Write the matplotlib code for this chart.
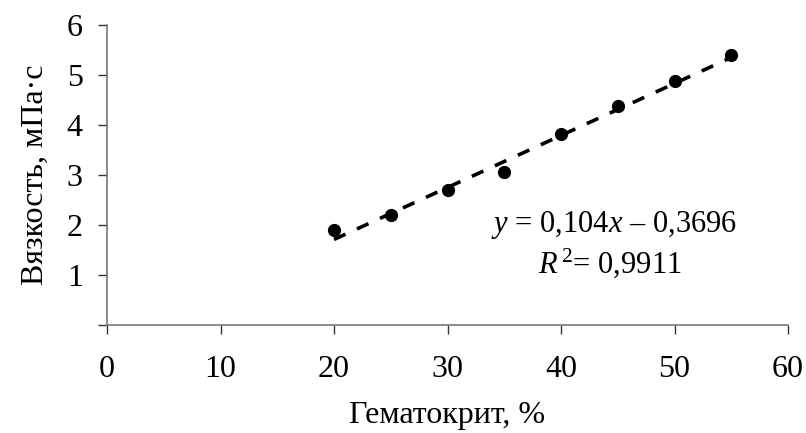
import matplotlib
matplotlib.use("Agg")
import matplotlib.pyplot as plt
import numpy as np

plt.rcParams['font.family'] = ['Liberation Serif', 'DejaVu Serif']
plt.rcParams['mathtext.fontset'] = 'custom'
plt.rcParams['mathtext.rm'] = 'Liberation Serif'
plt.rcParams['mathtext.it'] = 'Liberation Serif:italic'

# data
hematocrit = [20, 25, 30, 35, 40, 45, 50, 55]
viscosity = [1.9, 2.2, 2.7, 3.06, 3.82, 4.38, 4.88, 5.4]
slope = 0.104
intercept = -0.3696
r2 = 0.9911
xticks = [0, 10, 20, 30, 40, 50, 60]
yticks = [0, 1, 2, 3, 4, 5, 6]
ytick_labels = ['', '1', '2', '3', '4', '5', '6']

W, H = 806, 433
fig = plt.figure(figsize=(W / 100, H / 100), dpi=100)
ax = fig.add_axes([107 / W, 1 - 325 / H, 681 / W, 300 / H])

ax.plot(hematocrit, viscosity, 'o', color='black', markersize=8.5, zorder=3)
xt = np.array([hematocrit[0], hematocrit[-1]])
ax.plot(xt, slope * xt + intercept, color='black', linewidth=2.6,
        linestyle=(0, (3.5, 3.5)), dash_capstyle='butt')

ax.set_xlim(0, 60)
ax.set_ylim(0, 6)
ax.set_xticks(xticks)
ax.set_yticks(yticks)
ax.set_yticklabels(ytick_labels)

for s in ['top', 'right']:
    ax.spines[s].set_visible(False)
for s in ['left', 'bottom']:
    ax.spines[s].set_color('#777777')
    ax.spines[s].set_linewidth(1.2)
ax.tick_params(direction='out', length=6.5, width=1.0, color='#333333',
               labelsize=23)
ax.tick_params(axis='y', pad=11)
ax.tick_params(axis='x', pad=15)

ax.set_xlabel('Гематокрит, %', fontsize=23, labelpad=12)
ax.set_ylabel('Вязкость, мПа·с', fontsize=23, labelpad=12)

eq = '$y$ = ' + f'{slope}'.replace('.', ',') + '$x$ – ' + f'{-intercept}'.replace('.', ',')
ax.text(614, H - 225, eq, transform=None, fontsize=22, ha='center', va='center')
ax.text(610, H - 263, '$R^{\\,2}$= ' + f'{r2}'.replace('.', ','), fontsize=22,
        ha='center', va='center', transform=None)

fig.savefig('out.png', dpi=100)
